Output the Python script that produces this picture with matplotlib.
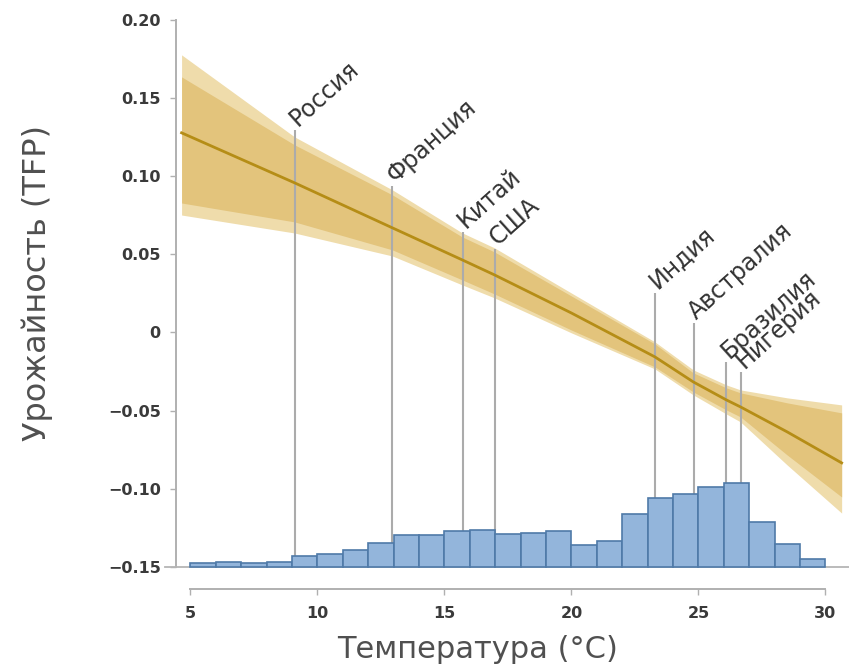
import matplotlib
matplotlib.use('Agg')
import matplotlib.pyplot as plt

# ---- data ----
# histogram of observations (bins of 1 °C from 5 to 30), heights in TFP-axis units above -0.15
hist_left = [5, 6, 7, 8, 9, 10, 11, 12, 13, 14, 15, 16, 17, 18, 19, 20, 21, 22, 23, 24, 25, 26, 27, 28, 29]
hist_heights = [0.0026, 0.0032, 0.0026, 0.0032, 0.0070, 0.0083, 0.0109, 0.0154, 0.0205, 0.0205,
                0.0230, 0.0237, 0.0211, 0.0218, 0.0230, 0.0141, 0.0166, 0.0339, 0.0442, 0.0467,
                0.0512, 0.0538, 0.0288, 0.0147, 0.0051]
hist_base = -0.15

# fitted response and confidence bands
fit_temp = [4.65, 9.1, 12.95, 15.7, 16.97, 20.0, 23.29, 24.8, 26.1, 26.66, 28.5, 30.64]
fit_mid = [0.1277, 0.0957, 0.0669, 0.0464, 0.0368, 0.0124, -0.0157, -0.0317, -0.0432, -0.0477, -0.0637, -0.0835]
outer_hi = [0.1776, 0.1251, 0.0912, 0.0637, 0.0541, 0.0252, -0.0061, -0.0240, -0.0336, -0.0368, -0.0419, -0.0464]
inner_hi = [0.1635, 0.1200, 0.0880, 0.0611, 0.0515, 0.0233, -0.0074, -0.0259, -0.0355, -0.0387, -0.0451, -0.0515]
inner_lo = [0.0828, 0.0707, 0.0528, 0.0336, 0.0246, 0.0015, -0.0221, -0.0381, -0.0496, -0.0541, -0.0785, -0.1053]
outer_lo = [0.0751, 0.0636, 0.0489, 0.0304, 0.0221, -0.0003, -0.0234, -0.0400, -0.0522, -0.0573, -0.0849, -0.1156]

# countries: mean temperature and label height
countries = ['Россия', 'Франция', 'Китай', 'США', 'Индия', 'Австралия', 'Бразилия', 'Нигерия']
country_temp = [9.1, 12.95, 15.72, 16.98, 23.29, 24.82, 26.1, 26.67]
country_top = [0.1295, 0.0937, 0.0643, 0.0534, 0.0252, 0.0060, -0.0190, -0.0254]

xticks = [5, 10, 15, 20, 25, 30]
yticks = [0.20, 0.15, 0.10, 0.05, 0.0, -0.05, -0.10, -0.15]
ytick_labels = ['0.20', '0.15', '0.10', '0.05', '0', '\u22120.05', '\u22120.10', '\u22120.15']

# ---- figure ----
plt.rcParams['font.family'] = ['DejaVu Sans']
fig = plt.figure(figsize=(8.49, 6.7), dpi=100)
ax = fig.add_axes([176 / 849, 1 - 589 / 670, (849 - 176) / 849, 579 / 670])
ax.set_xlim(4.43, 30.93)
ax.set_ylim(-0.1642, 0.2063)

# bands and fit
ax.fill_between(fit_temp, outer_lo, outer_hi, color='#efdcab', lw=0, zorder=1)
ax.fill_between(fit_temp, inner_lo, inner_hi, color='#e3c47c', lw=0, zorder=1.5)

# country reference lines
for t, top in zip(country_temp, country_top):
    ax.plot([t, t], [hist_base, top], color='#ababab', lw=1.5, zorder=2, solid_capstyle='butt')

ax.plot(fit_temp, fit_mid, color='#b58d16', lw=2.0, zorder=2.5)

# histogram
ax.bar(hist_left, hist_heights, width=1.0, bottom=hist_base, align='edge',
       color='#93b5db', edgecolor='#4f7aa8', linewidth=1.2, zorder=3)

# baseline
ax.plot([3.99, 30.93], [hist_base, hist_base], color='#b5b5b5', lw=1.3, zorder=2.8, clip_on=False)

# country labels
for name, t, top in zip(countries, country_temp, country_top):
    ax.text(t + 0.12, top + 0.002, name, rotation=42, rotation_mode='anchor', ha='left', va='baseline',
            fontsize=17, color='#333333', zorder=5)

# axes styling
for s in ['top', 'right']:
    ax.spines[s].set_visible(False)
ax.spines['left'].set_bounds(-0.15, 0.20)
ax.spines['bottom'].set_bounds(5, 30)
for s in ['left', 'bottom']:
    ax.spines[s].set_color('#b0b0b0')
    ax.spines[s].set_linewidth(1.4)

ax.set_xticks(xticks)
ax.set_xticklabels([str(v) for v in xticks])
ax.set_yticks(yticks)
ax.set_yticklabels(ytick_labels)
ax.tick_params(axis='both', direction='out', length=4, width=1.0, color='#b0b0b0',
               labelcolor='#3a3a3a', labelsize=11.5)
for lab in ax.get_xticklabels() + ax.get_yticklabels():
    lab.set_fontweight('bold')
ax.tick_params(axis='x', pad=8)
ax.tick_params(axis='y', pad=7)

fig.text(37 / 849, 1 - 283 / 670, 'Урожайность (TFP)', rotation=90, ha='center', va='center',
         fontsize=23, color='#505050')
fig.text(478 / 849, 1 - 650 / 670, 'Температура (°C)', ha='center', va='center',
         fontsize=22, color='#505050')

fig.savefig('out.png', dpi=100)
